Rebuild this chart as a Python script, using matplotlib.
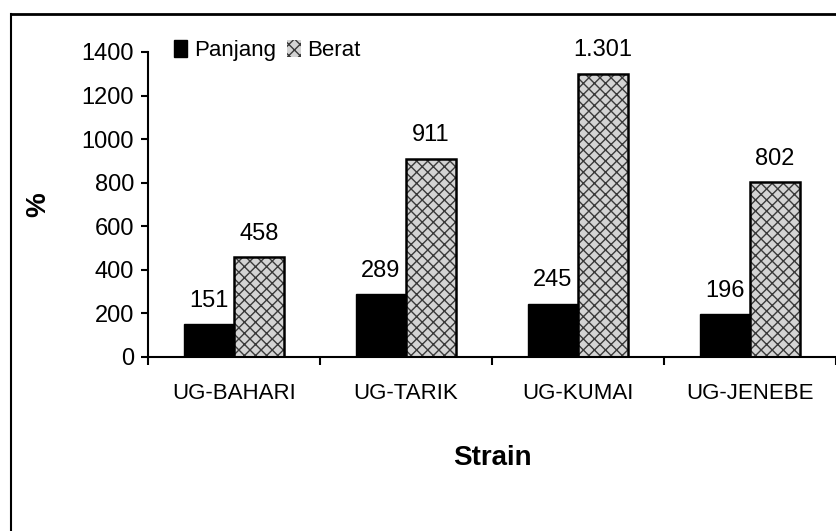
import matplotlib
matplotlib.use('Agg')
import numpy as np
import matplotlib.pyplot as plt
from matplotlib.lines import Line2D

strains = ['UG-BAHARI', 'UG-TARIK', 'UG-KUMAI', 'UG-JENEBE']
panjang = [151, 289, 245, 196]
berat = [458, 911, 1301, 802]
yticks = [0, 200, 400, 600, 800, 1000, 1200, 1400]

plt.rcParams['font.family'] = ['Liberation Sans', 'DejaVu Sans']
plt.rcParams['hatch.linewidth'] = 1.0


def fmt(v):
    # thousands separator as in the source (1.301)
    return '{:,}'.format(v).replace(',', '.')


fig = plt.figure(figsize=(8.36, 5.31), dpi=100)
ax = fig.add_axes([0.177, 0.3277, 0.823, 0.5744])

x = np.arange(len(strains))
w = 0.29
b1 = ax.bar(x - w / 2, panjang, w, color='black', edgecolor='black', linewidth=1, label='Panjang')
b2 = ax.bar(x + w / 2, berat, w, color='#d4d4d4', edgecolor='#3a3a3a', hatch='xxx', linewidth=0, label='Berat')
ax.bar(x + w / 2, berat, w, fill=False, edgecolor='black', linewidth=1.8)

for xi, v in zip(x - w / 2, panjang):
    ax.annotate(fmt(v), (xi, v), xytext=(0, 9), textcoords='offset points',
                ha='center', va='bottom', fontsize=17)
for xi, v in zip(x + w / 2, berat):
    ax.annotate(fmt(v), (xi, v), xytext=(0, 9), textcoords='offset points',
                ha='center', va='bottom', fontsize=17)

ax.set_xlim(-0.5, len(strains) - 0.5)
ax.set_ylim(0, 1400)
ax.set_yticks(yticks)
ax.set_yticklabels([str(t) for t in yticks], fontsize=17)
ax.set_xticks(np.arange(len(strains) + 1) - 0.5)
ax.set_xticklabels([])
ax.set_xticks(x, minor=True)
ax.set_xticklabels(strains, minor=True, fontsize=16)
ax.tick_params(axis='x', which='minor', length=0, pad=19)
ax.tick_params(axis='x', which='major', length=6, width=1.5, direction='out')
ax.tick_params(axis='y', length=5, width=1.5, direction='out', pad=5)

for s in ['top', 'right']:
    ax.spines[s].set_visible(False)
for s in ['left', 'bottom']:
    ax.spines[s].set_linewidth(1.5)

ax.set_xlabel('Strain', fontsize=20, fontweight='bold')
ax.xaxis.set_label_coords(0.5, -0.29)
ax.set_ylabel('%', fontsize=20, fontweight='bold')
ax.yaxis.set_label_coords(-0.14, 0.5)

ax.legend(handles=[b1, b2], loc='upper left', bbox_to_anchor=(0.025, 1.07), ncol=2,
          frameon=False, fontsize=16, handlelength=0.6, handleheight=0.8,
          handletextpad=0.3, columnspacing=0.5, borderaxespad=0)

# outer frame of the original figure
fig.add_artist(Line2D([11 / 836, 1], [1 - 14 / 531, 1 - 14 / 531], color='black', lw=2))
fig.add_artist(Line2D([11 / 836, 11 / 836], [0, 1 - 14 / 531], color='black', lw=1.5))

fig.savefig('out.png', dpi=100)
